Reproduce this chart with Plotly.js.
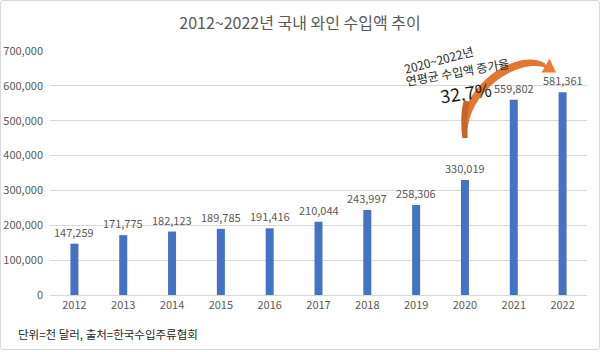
<!DOCTYPE html>
<html>
<head>
<meta charset="utf-8">
<script src="https://cdn.plot.ly/plotly-3.0.1.min.js"></script>
<style>
  html, body { margin: 0; padding: 0; background: #ffffff; }
  #wrap { position: relative; width: 600px; height: 352px; }
  #chart { width: 600px; height: 352px; }
  #frame { position: absolute; left: 0; top: 0; width: 598px; height: 348px; border: 1px solid #d9d9d9; border-radius: 3px; pointer-events: none; }
</style>
</head>
<body>
<div id="wrap"><div id="chart"></div><div id="frame"></div></div>
<script>
const years = ["2012","2013","2014","2015","2016","2017","2018","2019","2020","2021","2022"];
const imports = [147259, 171775, 182123, 189785, 191416, 210044, 243997, 258306, 330019, 559802, 581361];
const yTicks = [0, 100000, 200000, 300000, 400000, 500000, 600000, 700000];
const titleText = "2012~2022년 국내 와인 수입액 추이";
const noteText = "단위=천 달러, 출처=한국수입주류협회";
const growthLine1 = "2020~2022년";
const growthLine2 = "연평균 수입액 증가율";
const growthRate = "32.7%";

const FONT = "'Noto Sans CJK KR', 'Noto Sans', sans-serif";
const GRAY = "#595959";

// plot-area geometry helpers for decoration (arrow) in paper coords
const L = 50, W = 537, B = 295, H = 244;
function P(px, py) { return ((px - L) / W).toFixed(4) + "," + ((B - py) / H).toFixed(4); }

const bar = {
  type: "bar",
  x: years,
  y: imports,
  marker: { color: "#4472c4" },
  hoverinfo: "x+y"
};

// category axis: annotations use the category's serial index
const valueLabels = years.map((yr, i) => ({
  x: i, y: imports[i], xref: "x", yref: "y",
  text: imports[i].toLocaleString("en-US"),
  showarrow: false, yanchor: "middle", yshift: 12,
  font: { family: FONT, size: 11, color: GRAY }
}));

const arrowBody = "M" + P(462.5,138) + " C" + P(455,86) + " " + P(519,46.5) + " " + P(545,63.5) +
  " L" + P(547,68.5) + " C" + P(521,56.5) + " " + P(465,90) + " " + P(467.5,138) + " Z";
const arrowTail = "M" + P(462.5,138) + " C" + P(460.5,122) + " " + P(461,110) + " " + P(464,100) +
  " L" + P(470,102) + " C" + P(467,112) + " " + P(466.5,124) + " " + P(467.5,138) + " Z";
const arrowHead = "M" + P(541.5,72.5) + " L" + P(549.5,58.5) + " L" + P(556,72.5) + " Z";

const layout = {
  width: 600, height: 352,
  margin: { l: 50, r: 13, t: 51, b: 57 },
  paper_bgcolor: "#ffffff", plot_bgcolor: "#ffffff",
  font: { family: FONT, color: GRAY },
  title: { text: titleText, x: 0.5, xanchor: "center", y: 1 - 23/352, yanchor: "middle",
           font: { family: FONT, size: 16, color: GRAY } },
  showlegend: false,
  bargap: 0.836,
  xaxis: {
    type: "category", range: [-0.5, 10.5], autorange: false,
    showgrid: false, zeroline: false, showline: false, ticklabelstandoff: 2,
    ticks: "", tickfont: { family: FONT, size: 11, color: GRAY }, fixedrange: true
  },
  yaxis: {
    range: [0, 700000], autorange: false, tickvals: yTicks, tickformat: ",d",
    showgrid: true, gridcolor: "#d9d9d9", gridwidth: 1,
    zeroline: true, zerolinecolor: "#d9d9d9", zerolinewidth: 1,
    showline: false, ticks: "", ticklabelstandoff: 6,
    tickfont: { family: FONT, size: 11, color: GRAY }, fixedrange: true
  },
  shapes: [
    { type: "path", xref: "paper", yref: "paper", path: arrowBody, fillcolor: "#e2772f", line: { width: 0 } },
    { type: "path", xref: "paper", yref: "paper", path: arrowTail, fillcolor: "#c4652a", line: { width: 0 } },
    { type: "path", xref: "paper", yref: "paper", path: arrowHead, fillcolor: "#ee7d31", line: { width: 0 } }
  ],
  annotations: valueLabels.concat([
    { xref: "paper", yref: "paper", x: (438 - L) / W, y: (B - 59) / H, text: growthLine1,
      showarrow: false, textangle: -15, xanchor: "center", yanchor: "middle",
      font: { family: FONT, size: 12, color: "#262626" } },
    { xref: "paper", yref: "paper", x: (457 - L) / W, y: (B - 71) / H, text: growthLine2,
      showarrow: false, textangle: -10, xanchor: "center", yanchor: "middle",
      font: { family: FONT, size: 12, color: "#262626" } },
    { xref: "paper", yref: "paper", x: (465.5 - L) / W, y: (B - 92) / H, text: growthRate,
      showarrow: false, textangle: -8, xanchor: "center", yanchor: "middle",
      font: { family: FONT, size: 18, color: "#1a1a1a" } },
    { xref: "paper", yref: "paper", x: (16 - L) / W, y: (B - 334) / H, text: noteText,
      showarrow: false, xanchor: "left", yanchor: "middle",
      font: { family: FONT, size: 11.5, color: "#262626" } }
  ])
};

Plotly.newPlot("chart", [bar], layout, { displayModeBar: false, staticPlot: true });
</script>
</body>
</html>
